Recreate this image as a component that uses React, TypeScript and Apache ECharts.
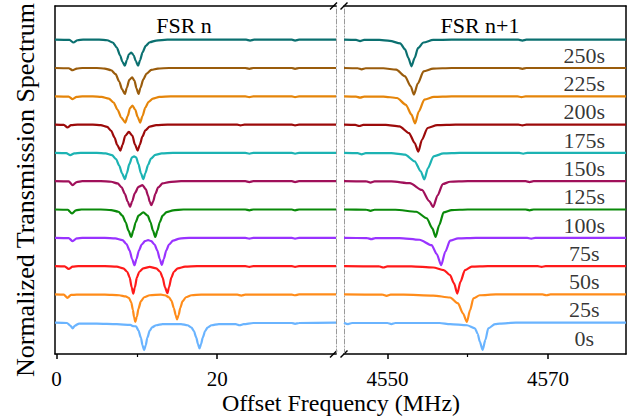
import React, { useEffect, useRef } from "react";
import * as echarts from "echarts";

const FONT = "Liberation Serif";

const timeLabels = ["0s", "25s", "50s", "75s", "100s", "125s", "150s", "175s", "200s", "225s", "250s"];
const colors = ["#6ab4ff", "#ff8c1a", "#ff1a1a", "#9933ff", "#0a8a0a", "#a0105a", "#1cb3b3", "#9c0a0a", "#e5850a", "#9a5c0c", "#0b7070"];

// Left panel (FSR n): [offset frequency MHz, normalized transmission]
const left0 = [[-0.2,1],[1.3,0.99],[1.7,0.9],[2.0,0.8],[2.3,0.9],[2.8,0.97],[5,0.97],[7.5,0.95],[9.2,0.92],[9.5,0.88],[9.9,0.87],[10.2,0.72],[10.5,0.47],[10.7,0.2],[10.9,0.03],[11.1,0.2],[11.3,0.47],[11.6,0.72],[11.9,0.84],[12.4,0.91],[13.2,0.95],[15.5,0.95],[16.3,0.91],[16.8,0.83],[17.1,0.7],[17.4,0.47],[17.6,0.25],[17.8,0.09],[18.0,0.25],[18.2,0.47],[18.5,0.7],[18.8,0.83],[19.3,0.91],[20.2,0.95],[22.3,0.95],[22.8,0.91],[23.3,0.95],[24.5,0.99],[29.3,0.99],[29.7,0.96],[30.2,0.99],[34.8,1]];
const left1 = [[-0.2,1],[0.9,0.99],[1.35,0.88],[1.8,0.98],[2.5,0.99],[6,0.99],[7.8,0.97],[8.6,0.93],[9.0,0.88],[9.3,0.72],[9.5,0.45],[9.65,0.2],[9.8,0.03],[10.0,0.22],[10.2,0.5],[10.5,0.76],[10.9,0.9],[11.6,0.97],[13,0.99],[13.5,0.97],[14.0,0.9],[14.3,0.78],[14.6,0.52],[14.85,0.25],[15.0,0.12],[15.2,0.27],[15.4,0.52],[15.7,0.76],[16.1,0.9],[16.8,0.97],[18,0.99],[22.5,0.99],[23,0.96],[23.5,0.99],[29.3,0.99],[29.7,0.97],[30.2,1],[34.8,1]];
const left2 = [[-0.2,1],[1.0,0.99],[1.5,0.9],[2.0,0.98],[2.7,1],[6,1],[7.5,0.98],[8.3,0.92],[8.8,0.8],[9.1,0.6],[9.35,0.25],[9.55,0.03],[9.75,0.25],[10.0,0.6],[10.3,0.8],[10.8,0.92],[11.6,0.97],[12.4,0.92],[12.9,0.8],[13.2,0.6],[13.5,0.25],[13.8,0.04],[14.0,0.25],[14.3,0.6],[14.6,0.8],[15.1,0.92],[16,0.98],[17.5,1],[23.5,1],[24.0,0.97],[24.5,1],[29.3,1],[29.7,0.97],[30.2,1],[34.8,1]];
const left3 = [[-0.2,1],[1.5,0.99],[2.0,0.88],[2.5,0.98],[3.2,1],[6,1],[7.3,0.98],[8.2,0.92],[8.7,0.78],[9.1,0.55],[9.4,0.25],[9.7,0.03],[9.95,0.25],[10.25,0.55],[10.6,0.76],[11.0,0.88],[11.4,0.92],[11.8,0.88],[12.2,0.76],[12.55,0.55],[12.85,0.25],[13.1,0.04],[13.35,0.25],[13.65,0.55],[14.0,0.76],[14.5,0.9],[15.3,0.97],[16.5,1],[23.5,1],[24.0,0.97],[24.5,1],[29.3,1],[29.7,0.97],[30.2,1],[34.8,1]];
const left4 = [[-0.2,1],[1.4,0.99],[1.9,0.86],[2.4,0.97],[3.1,1],[5.5,1],[6.8,0.98],[7.7,0.92],[8.2,0.78],[8.6,0.55],[8.95,0.25],[9.3,0.03],[9.55,0.25],[9.85,0.55],[10.2,0.78],[10.8,0.9],[11.35,0.78],[11.7,0.55],[12.0,0.25],[12.3,0.03],[12.55,0.25],[12.85,0.55],[13.2,0.78],[13.7,0.91],[14.5,0.97],[15.8,1],[23.5,1],[24.0,0.97],[24.5,1],[29.3,1],[29.7,0.97],[30.2,1],[34.8,1]];
const left5 = [[-0.2,1],[1.5,0.99],[2.0,0.86],[2.5,0.97],[3.2,1],[5.5,1],[6.8,0.98],[7.6,0.92],[8.1,0.78],[8.5,0.55],[8.85,0.28],[9.15,0.09],[9.4,0.28],[9.75,0.58],[10.2,0.8],[10.7,0.86],[11.1,0.72],[11.4,0.48],[11.6,0.27],[11.8,0.15],[12.0,0.27],[12.3,0.55],[12.65,0.78],[13.2,0.92],[14.0,0.97],[15.5,1],[23.5,1],[24.0,0.97],[24.5,1],[29.3,1],[29.7,0.97],[30.2,1],[34.8,1]];
const left6 = [[-0.2,1],[1.2,0.99],[1.7,0.92],[2.2,0.98],[3,1],[5,1],[6.1,0.98],[6.9,0.92],[7.4,0.78],[7.8,0.55],[8.15,0.28],[8.5,0.07],[8.75,0.28],[9.05,0.6],[9.4,0.84],[9.65,0.88],[9.9,0.84],[10.2,0.6],[10.5,0.28],[10.8,0.07],[11.05,0.28],[11.4,0.58],[11.75,0.8],[12.3,0.93],[13.1,0.98],[14.5,1],[23.5,1],[24.0,0.97],[24.5,1],[29.3,1],[29.7,0.97],[30.2,1],[34.8,1]];
const left7 = [[-0.2,1],[0.9,0.99],[1.35,0.9],[1.8,0.98],[2.6,1],[4.5,1],[5.5,0.98],[6.3,0.92],[6.8,0.78],[7.2,0.55],[7.55,0.28],[7.95,0.08],[8.2,0.28],[8.55,0.6],[9.0,0.74],[9.45,0.6],[9.75,0.3],[10.1,0.08],[10.35,0.28],[10.7,0.58],[11.05,0.8],[11.6,0.93],[12.4,0.98],[13.8,1],[22.5,1],[22.9,0.97],[23.4,1],[29.3,1],[29.7,0.97],[30.2,1],[34.8,1]];
const left8 = [[-0.2,1],[1.5,0.99],[2.0,0.9],[2.5,0.98],[3.2,1],[4.5,1],[5.6,0.98],[6.5,0.92],[7.1,0.78],[7.6,0.52],[8.05,0.25],[8.55,0.07],[8.85,0.3],[9.15,0.58],[9.45,0.67],[9.8,0.52],[10.1,0.27],[10.4,0.07],[10.7,0.3],[11.05,0.6],[11.45,0.8],[12.0,0.92],[12.8,0.98],[14.2,1],[23.5,1],[24.0,0.97],[24.5,1],[29.3,1],[29.7,0.97],[30.2,1],[34.8,1]];
const left9 = [[-0.2,1],[1.5,0.99],[2.0,0.92],[2.5,0.98],[3.2,1],[5,1],[6.0,0.98],[6.8,0.92],[7.35,0.78],[7.8,0.52],[8.15,0.25],[8.5,0.08],[8.75,0.3],[9.05,0.58],[9.4,0.67],[9.7,0.55],[9.95,0.28],[10.2,0.08],[10.45,0.3],[10.8,0.6],[11.2,0.8],[11.8,0.93],[12.6,0.98],[14,1],[23.5,1],[24.0,0.97],[24.5,1],[29.3,1],[29.7,0.97],[30.2,1],[34.8,1]];
const left10 = [[-0.2,1],[1.6,0.99],[2.1,0.9],[2.6,0.98],[3.3,1],[5.3,1],[6.3,0.98],[7.0,0.9],[7.5,0.72],[7.9,0.45],[8.2,0.22],[8.5,0.08],[8.75,0.28],[9.0,0.48],[9.3,0.54],[9.6,0.45],[9.85,0.25],[10.15,0.08],[10.4,0.28],[10.7,0.55],[11.1,0.78],[11.6,0.91],[12.4,0.97],[13.8,1],[23.6,1],[24.1,0.97],[24.6,1],[29.3,1],[29.7,0.97],[30.2,1],[34.8,1]];

// Right panel (FSR n+1)
const right0 = [[4544.6,1],[4545.1,0.95],[4545.6,0.99],[4550.0,0.99],[4550.5,0.95],[4551.0,0.99],[4556.5,0.99],[4557.8,0.95],[4559.9,0.91],[4560.9,0.8],[4561.25,0.6],[4561.5,0.33],[4561.85,0.04],[4562.2,0.39],[4562.55,0.8],[4563.4,0.95],[4564.0,0.97],[4566,1],[4579.7,1]];
const right1 = [[4544.6,1],[4549.4,0.99],[4549.9,0.95],[4550.4,0.99],[4552,0.99],[4555.7,0.96],[4557.8,0.89],[4558.8,0.68],[4559.4,0.33],[4559.9,0.03],[4560.3,0.45],[4560.7,0.86],[4561.5,0.97],[4563.5,1],[4569.3,1],[4569.8,0.97],[4570.3,1],[4579.7,1]];
const right2 = [[4544.6,1],[4549.0,0.99],[4549.5,0.95],[4550.0,0.99],[4553,0.99],[4555.7,0.95],[4557.0,0.86],[4557.8,0.68],[4558.3,0.39],[4558.7,0.03],[4559.1,0.45],[4559.65,0.86],[4560.5,0.98],[4562.5,1],[4568.7,1],[4569.2,0.97],[4569.7,1],[4579.7,1]];
const right3 = [[4544.6,1],[4547.5,0.99],[4548.0,0.95],[4548.5,0.99],[4551.5,0.99],[4554.0,0.93],[4555.5,0.74],[4556.15,0.42],[4556.7,0.03],[4557.2,0.5],[4557.8,0.9],[4558.8,0.98],[4561,1],[4567.4,1],[4567.9,0.97],[4568.4,1],[4579.7,1]];
const right4 = [[4544.6,1],[4547.4,0.99],[4547.9,0.95],[4548.4,0.99],[4551,0.99],[4553.6,0.92],[4554.9,0.69],[4555.6,0.33],[4556.0,0.03],[4556.45,0.45],[4557.0,0.9],[4558,0.98],[4560,1],[4567.2,1],[4567.7,0.97],[4568.2,1],[4579.7,1]];
const right5 = [[4544.6,1],[4547.4,0.99],[4547.9,0.95],[4548.4,0.99],[4550.5,0.99],[4552.8,0.93],[4554.3,0.69],[4555.2,0.3],[4555.7,0.09],[4556.25,0.5],[4556.9,0.9],[4557.8,0.98],[4560,1],[4567.2,1],[4567.7,0.97],[4568.2,1],[4579.7,1]];
const right6 = [[4544.6,1],[4546.3,0.99],[4546.8,0.95],[4547.3,0.99],[4550.5,0.99],[4552.2,0.94],[4553.4,0.7],[4554.15,0.35],[4554.6,0.06],[4555.05,0.46],[4555.75,0.88],[4557,0.98],[4559,1],[4566.4,1],[4566.9,0.97],[4567.4,1],[4579.7,1]];
const right7 = [[4544.6,1],[4546.0,0.99],[4546.5,0.95],[4547.0,0.99],[4549.8,0.99],[4551.5,0.94],[4552.7,0.7],[4553.4,0.35],[4553.85,0.04],[4554.3,0.46],[4555.0,0.88],[4556.2,0.98],[4558.5,1],[4566.3,1],[4566.8,0.97],[4567.3,1],[4579.7,1]];
const right8 = [[4544.6,1],[4546.1,0.99],[4546.6,0.95],[4547.1,0.99],[4549.5,0.99],[4551.2,0.94],[4552.3,0.7],[4553.0,0.35],[4553.45,0.04],[4553.9,0.46],[4554.6,0.88],[4555.8,0.98],[4558,1],[4566.2,1],[4566.7,0.97],[4567.2,1],[4579.7,1]];
const right9 = [[4544.6,1],[4546.3,0.99],[4546.8,0.95],[4547.3,0.99],[4549.5,0.99],[4551.1,0.94],[4552.2,0.7],[4552.9,0.35],[4553.3,0.06],[4553.8,0.46],[4554.5,0.88],[4555.7,0.98],[4558,1],[4566.3,1],[4566.8,0.97],[4567.3,1],[4579.7,1]];
const right10 = [[4544.6,1],[4546.1,0.99],[4546.6,0.95],[4547.1,0.99],[4549,0.99],[4550.3,0.96],[4551.6,0.87],[4552.2,0.66],[4552.6,0.36],[4553.0,0.06],[4553.4,0.36],[4553.8,0.7],[4554.5,0.9],[4555.7,0.99],[4558,1],[4566.3,1],[4566.8,0.97],[4567.3,1],[4579.7,1]];

const leftTraces = [left0, left1, left2, left3, left4, left5, left6, left7, left8, left9, left10];
const rightTraces = [right0, right1, right2, right3, right4, right5, right6, right7, right8, right9, right10];

const leftRange = [-0.2, 34.8];
const rightRange = [4544.6, 4579.7];
const yRange = [-1.106, 11.19];
const leftTicks = [0, 20];
const leftMinor = [10];
const rightTicks = [4550, 4570];
const rightMinor = [4560];
const labelX = 4574.5;
const labelOffset = -0.55;

export default function App() {
  const ref = useRef<HTMLDivElement>(null);
  useEffect(() => {
    if (!ref.current) return;
    const chart = echarts.init(ref.current, null, { renderer: "svg" });
    const black = { color: "#000", width: 1.5 };
    const dashDot = { color: "#9a9a9a", width: 1, type: [5, 2, 1, 2] };
    const hidden = { show: false };
    const tickLabel = {
      fontSize: 21, color: "#000", fontFamily: FONT, margin: 14,
      formatter: (v: number) => String(v),
    };

    const xAxes: any[] = [];
    const mkX = (grid: number, range: number[], ticks: number[], minor: number[]) => {
      xAxes.push({
        gridIndex: grid, type: "value", min: range[0], max: range[1], position: "bottom",
        axisLine: { show: true, onZero: false, lineStyle: black },
        axisTick: { show: true, customValues: ticks, length: 5, lineStyle: black },
        axisLabel: { show: true, customValues: ticks, ...tickLabel },
        splitLine: hidden,
      });
      xAxes.push({
        gridIndex: grid, type: "value", min: range[0], max: range[1], position: "top",
        axisLine: { show: true, onZero: false, lineStyle: black }, axisTick: hidden, axisLabel: hidden, splitLine: hidden,
      });
      xAxes.push({
        gridIndex: grid, type: "value", min: range[0], max: range[1], position: "bottom",
        axisLine: { show: false, onZero: false },
        axisTick: { show: true, customValues: minor, length: 3, lineStyle: { color: "#000", width: 1.2 } },
        axisLabel: hidden, splitLine: hidden,
      });
    };
    mkX(0, leftRange, leftTicks, leftMinor);
    mkX(1, rightRange, rightTicks, rightMinor);

    const mkY = (grid: number, pos: string, style: any) => ({
      gridIndex: grid, type: "value", min: yRange[0], max: yRange[1], position: pos,
      axisLine: { show: true, onZero: false, lineStyle: style }, axisTick: hidden, axisLabel: hidden, splitLine: hidden,
    });
    const yAxes = [
      mkY(0, "left", black),
      mkY(0, "right", dashDot),
      mkY(1, "left", dashDot),
      mkY(1, "right", black),
    ];

    const series: any[] = [];
    leftTraces.forEach((tr, i) => {
      series.push({
        type: "line", xAxisIndex: 0, yAxisIndex: 0, showSymbol: false, smooth: 0.25, smoothMonotone: "x",
        lineStyle: { color: colors[i], width: 2.2 }, data: tr.map(([x, t]) => [x, i + t - 1]),
      });
    });
    rightTraces.forEach((tr, i) => {
      series.push({
        type: "line", xAxisIndex: 3, yAxisIndex: 2, showSymbol: false, smooth: 0.25, smoothMonotone: "x",
        lineStyle: { color: colors[i], width: 2.2 }, data: tr.map(([x, t]) => [x, i + t - 1]),
      });
    });
    series.push({
      type: "scatter", xAxisIndex: 3, yAxisIndex: 2, symbolSize: 1,
      itemStyle: { color: "rgba(0,0,0,0)" },
      label: {
        show: true, position: "inside", fontSize: 22, color: "#000", fontFamily: FONT,
        formatter: (p: any) => timeLabels[p.dataIndex],
      },
      data: timeLabels.map((_, i) => [labelX, i + labelOffset]),
    });

    const slash = (x1: number, y1: number, x2: number, y2: number) => ({
      type: "line", shape: { x1, y1, x2, y2 }, style: { stroke: "#000", lineWidth: 1.5 },
    });
    const txt = (x: number, y: number, text: string, size: number, rotation = 0) => ({
      type: "text", x, y, rotation,
      style: { text, fill: "#000", fontSize: size, fontFamily: FONT, align: "center", verticalAlign: "middle" },
    });

    chart.setOption({
      animation: false,
      textStyle: { fontFamily: FONT },
      grid: [
        { left: 55, top: 6, width: 281, height: 348 },
        { left: 344, top: 6, width: 282, height: 348 },
      ],
      xAxis: xAxes,
      yAxis: yAxes,
      series,
      graphic: [
        slash(330, 9.5, 337, 2.5), slash(340.5, 9.5, 347.5, 2.5),
        slash(330, 357.5, 337, 350.5), slash(340.5, 357.5, 347.5, 350.5),
        txt(184, 25, "FSR n", 22),
        txt(480, 25, "FSR n+1", 22),
        txt(341, 403, "Offset Frequency (MHz)", 24),
        txt(25, 190, "Normalized Transmission Spectrum", 26, Math.PI / 2),
      ],
    });
    return () => chart.dispose();
  }, []);
  return <div ref={ref} style={{ position: "absolute", left: 0, top: 0, width: 631, height: 418 }} />;
}
